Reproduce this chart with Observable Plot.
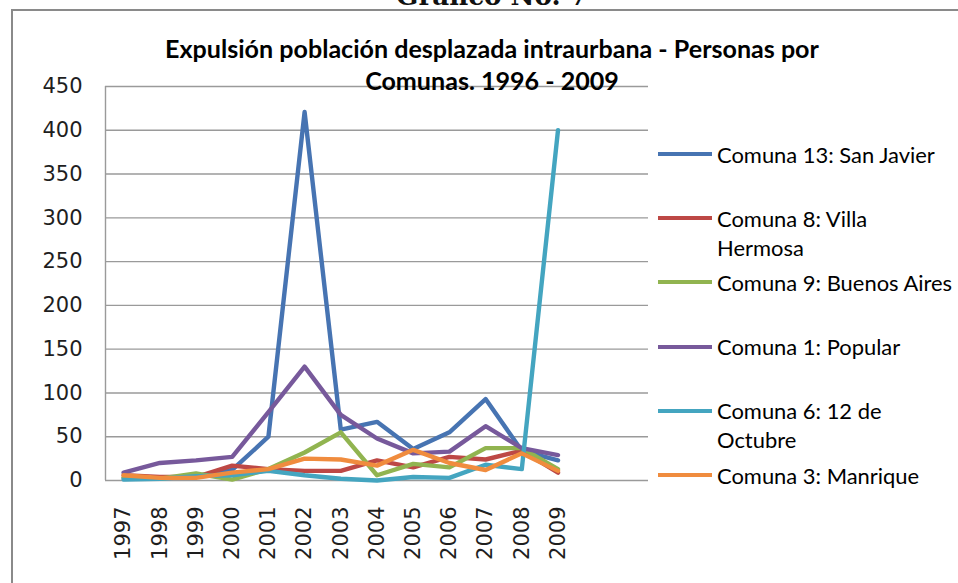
<!DOCTYPE html>
<html>
<head>
<meta charset="utf-8">
<script src="https://cdn.jsdelivr.net/npm/d3@7"></script>
<script src="https://cdn.jsdelivr.net/npm/@observablehq/plot@0.6"></script>
<style>
  html, body { margin: 0; padding: 0; background: #fff; }
  body { width: 958px; height: 583px; overflow: hidden; position: relative; }
  #chart { position: absolute; left: 0; top: 0; }
  #frame { position: absolute; left: 11px; top: 9px; width: 1000px; height: 700px;
           border-left: 2.5px solid #8a8a8a; border-top: 2.5px solid #8a8a8a; box-sizing: border-box; }
  .ctr { position: absolute; left: 0; width: 984px; text-align: center; white-space: nowrap; }
  .ctr span { display: inline-block; }
  #sup { top: -16px; height: 24px; line-height: 24px; font-family: "DejaVu Serif", serif; font-weight: bold; font-size: 21px; color: #111; }
  .title { font-family: Lato, "Open Sans", sans-serif; font-weight: bold; color: #000; height: 30px; line-height: 30px; font-size: 20px; }
  #t1 { top: 33px; }
  #t2 { top: 65px; }
  .leg { position: absolute; left: 658px; }
  .leg .sw { position: absolute; left: 0; width: 54px; height: 4px; top: 12.5px; }
  .leg .lab { position: absolute; left: 59px; white-space: nowrap; font-family: Lato, "Open Sans", sans-serif;
              font-size: 20px; line-height: 29px; color: #000; }
  .leg .lab span { display: inline-block; }
</style>
</head>
<body>
<div id="chart"></div>
<div id="frame"></div>
<div id="sup" class="ctr"><span>Gráfico No. 7</span></div>
<div id="t1" class="ctr title"><span>Expulsión población desplazada intraurbana - Personas por</span></div>
<div id="t2" class="ctr title"><span>Comunas. 1996 - 2009</span></div>
<div id="legend"></div>
<script>
// ---- data ----
const years = [1997, 1998, 1999, 2000, 2001, 2002, 2003, 2004, 2005, 2006, 2007, 2008, 2009];
const comuna13 = [3, 3, 5, 12, 50, 421, 58, 67, 36, 55, 93, 34, 23];
const comuna8  = [6, 4, 4, 17, 13, 11, 11, 23, 15, 27, 24, 34, 9];
const comuna9  = [3, 2, 8, 1, 13, 32, 55, 6, 19, 15, 37, 37, 13];
const comuna1  = [9, 20, 23, 27, 78, 130, 75, 48, 31, 33, 62, 37, 29];
const comuna6  = [1, 2, 5, 6, 11, 6, 2, 0, 4, 3, 18, 13, 400];
const comuna3  = [6, 3, 3, 9, 13, 25, 24, 17, 35, 20, 12, 31, 11];
const seriesNames = ["Comuna 13: San Javier", "Comuna 8: Villa Hermosa", "Comuna 9: Buenos Aires",
                     "Comuna 1: Popular", "Comuna 6: 12 de Octubre", "Comuna 3: Manrique"];
const legendLines = [["Comuna 13: San Javier"], ["Comuna 8: Villa", "Hermosa"], ["Comuna 9: Buenos Aires"],
                     ["Comuna 1: Popular"], ["Comuna 6: 12 de", "Octubre"], ["Comuna 3: Manrique"]];
const seriesValues = [comuna13, comuna8, comuna9, comuna1, comuna6, comuna3];
const seriesColors = ["#4774b2", "#bd4845", "#91b450", "#77599b", "#44a5c0", "#f08c3e"];
const yTicks = [0, 50, 100, 150, 200, 250, 300, 350, 400, 450];
const xDomain = [1996.5, 2011.5];

const series = seriesNames.map((name, k) => ({name, values: seriesValues[k], color: seriesColors[k]}));

const gridColor = "#9a9a9a";
const chart = Plot.plot({
  width: 958,
  height: 583,
  marginLeft: 105,
  marginRight: 310,
  marginTop: 86,
  marginBottom: 103,
  style: {fontFamily: "DejaVu Sans, sans-serif", fontSize: "21px", background: "transparent"},
  x: {type: "linear", domain: xDomain},
  y: {domain: [0, 450]},
  marks: [
    Plot.gridY(yTicks, {stroke: gridColor, strokeOpacity: 1, strokeWidth: 1.4}),
    Plot.ruleX([xDomain[0]], {y1: yTicks[0], y2: yTicks[yTicks.length - 1], stroke: gridColor, strokeWidth: 1.4}),
    Plot.axisY(yTicks, {tickSize: 0, tickPadding: 23, fontSize: 21, fill: "#1e1e1e", label: null}),
    Plot.axisX(years, {tickSize: 0, tickRotate: -90, textAnchor: "end", lineAnchor: "middle",
                       tickPadding: 26, fontSize: 21, fill: "#1e1e1e", label: null, tickFormat: d => String(d)}),
    ...series.map(s => Plot.line(years, {x: d => d, y: (d, i) => s.values[i], stroke: s.color,
                                         strokeWidth: 4.4, strokeLinejoin: "round", strokeLinecap: "round"}))
  ]
});
document.getElementById("chart").appendChild(chart);

// ---- legend ----
const legend = document.getElementById("legend");
series.forEach((s, k) => {
  const item = document.createElement("div");
  item.className = "leg";
  item.style.top = (154 + 64.2 * k - 14.5) + "px";
  const sw = document.createElement("div");
  sw.className = "sw";
  sw.style.background = s.color;
  item.appendChild(sw);
  const lab = document.createElement("div");
  lab.className = "lab";
  lab.innerHTML = legendLines[k].map(t => "<span>" + t + "</span>").join("<br>");
  item.appendChild(lab);
  legend.appendChild(item);
});

// ---- fit fonts to the reference widths ----
function fit(span, target) {
  const w = span.getBoundingClientRect().width;
  const fs = parseFloat(getComputedStyle(span).fontSize);
  if (w > 0) span.style.fontSize = (fs * target / w) + "px";
  return fs * target / w;
}
fit(document.querySelector("#sup span"), 192);
const tfs = fit(document.querySelector("#t1 span"), 654);
document.querySelector("#t2 span").style.fontSize = tfs + "px";
const firstLab = document.querySelector(".leg .lab span");
const lw = firstLab.getBoundingClientRect().width;
const lfs = 20 * 218 / lw;
document.querySelectorAll(".leg .lab").forEach(el => el.style.fontSize = lfs + "px");
</script>
</body>
</html>
